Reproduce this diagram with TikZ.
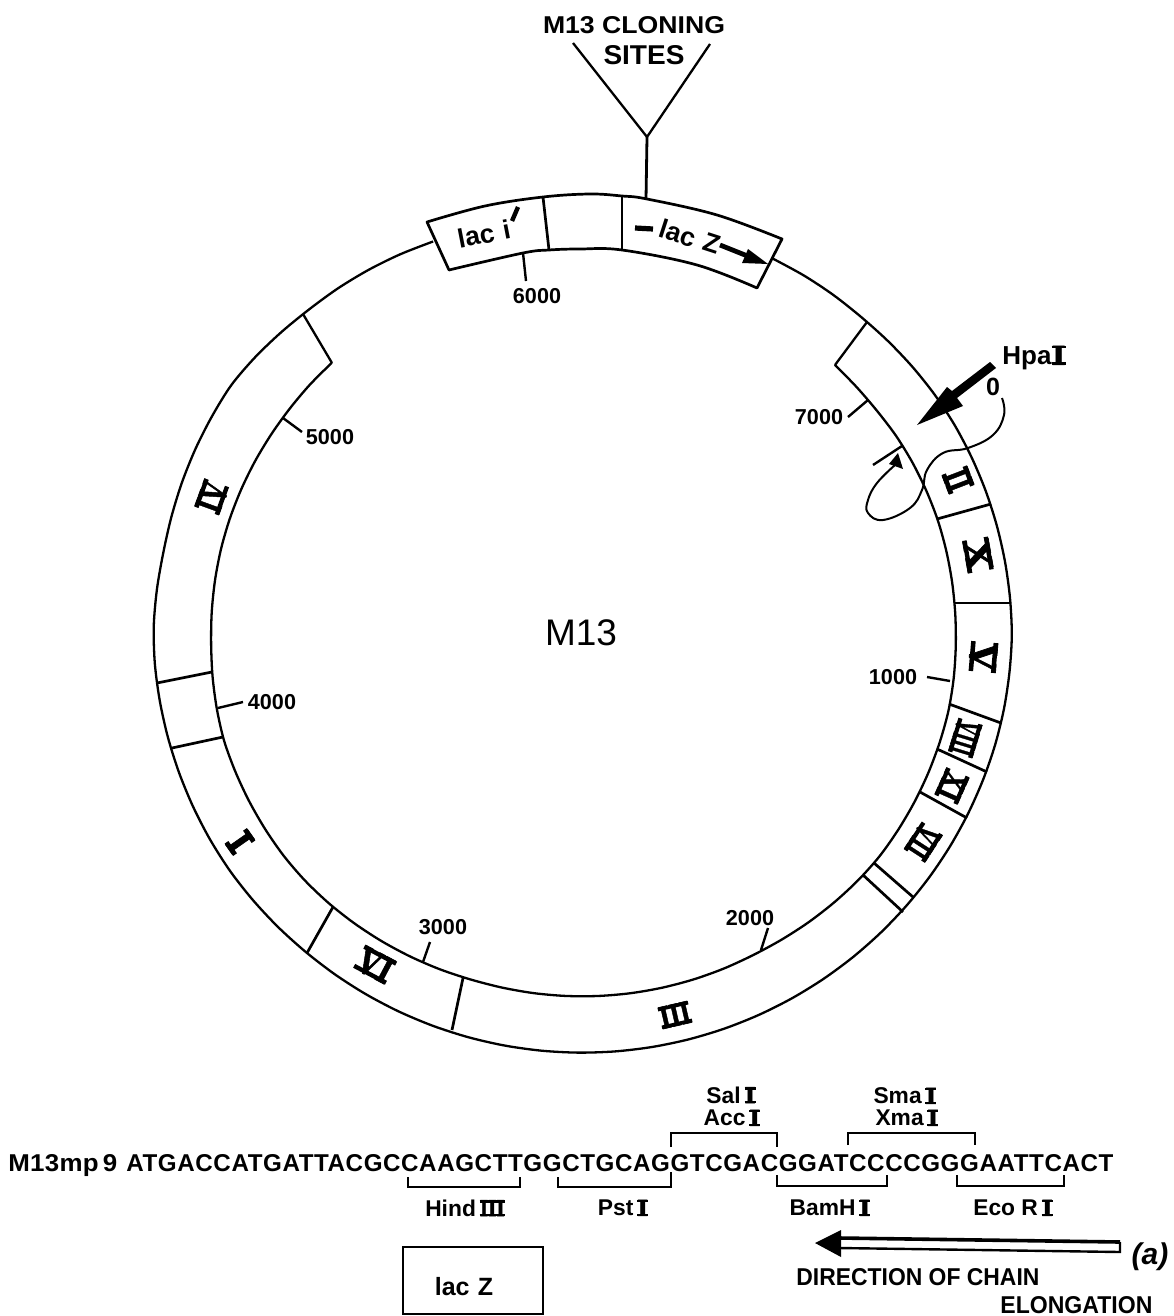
\documentclass[tikz,border=0pt]{standalone}
\usepackage{fontspec}
\usepackage{graphicx}
\setmainfont{Liberation Sans}
\newfontfamily\srf{Liberation Serif}[BoldFeatures={FakeBold=1.6}]
\newsavebox\rnb
\newcommand\rn[3]{\sbox\rnb{\srf\bfseries #3}\resizebox{\dimexpr #1pt/2\relax}{\dimexpr #2pt/2\relax}{\rlap{\raisebox{\dimexpr\ht\rnb-1.1pt}{\rule{\wd\rnb}{1.1pt}}}\rlap{\rule{\wd\rnb}{1.1pt}}\usebox\rnb}}
\newcommand\fitwh[3]{\resizebox{\dimexpr #1pt/2\relax}{\dimexpr #2pt/2\relax}{#3}}
\newcommand\sI{\,\rn{11}{16}{I}}
\tikzset{
 ring/.style={line width=1.15pt,line join=round},
 div/.style={line width=1.35pt},
 tick/.style={line width=1.2pt},
 num/.style={inner sep=0pt,font=\fontsize{10.8}{12}\selectfont\bfseries},
 lab/.style={inner sep=0pt,font=\fontsize{11.4}{13}\selectfont\bfseries,align=center},
 lacf/.style={inner sep=0pt,font=\fontsize{13.3}{15}\selectfont\bfseries},
 txt/.style={inner sep=0pt,font=\bfseries},
 gene/.style={inner sep=0pt,anchor=center},
 brk/.style={line width=1pt},
 declare function={
  lin(\t,\a,\b,\c,\d)=\b+(\t-\a)*(\d-\b)/(\c-\a);
  ro(\t)=(\t<-46.6)?lin(\t,-62.4,410,-46.6,413):((\t<-29.9)?lin(\t,-46.6,413,-29.9,420):((\t<-16.3)?lin(\t,-29.9,420,-16.3,424):((\t<1.5)?lin(\t,-16.3,424,1.5,429):((\t<13.6)?lin(\t,1.5,429,13.6,430):((\t<130)?lin(\t,13.6,430,130,431):((\t<146)?lin(\t,130,431,146,432):((\t<177.6)?lin(\t,146,432,177.6,430):((\t<190.4)?lin(\t,177.6,430,190.4,425):((\t<214.8)?lin(\t,190.4,425,214.8,424):((\t<227.7)?lin(\t,214.8,424,227.7,416):lin(\t,227.7,416,248.5,409)))))))))));
  ri(\t)=(\t<-37.9)?lin(\t,-45.6,360,-37.9,361):((\t<-29)?lin(\t,-37.9,361,-29,365):((\t<-16.4)?lin(\t,-29,365,-16.4,369):((\t<1.7)?lin(\t,-16.4,369,1.7,373):((\t<12.4)?lin(\t,1.7,373,12.4,376):((\t<39.6)?lin(\t,12.4,376,39.6,378):((\t<61.4)?lin(\t,39.6,378,61.4,374):((\t<106)?lin(\t,61.4,374,106,374.5):((\t<131.3)?lin(\t,106,374.5,131.3,379):((\t<139.8)?lin(\t,131.3,379,139.8,380):((\t<162.3)?lin(\t,139.8,380,162.3,378):((\t<177)?lin(\t,162.3,378,177,372.4):((\t<192.8)?lin(\t,177,372.4,192.8,369):((\t<214.2)?lin(\t,192.8,369,214.2,363):lin(\t,214.2,363,225.9,361))))))))))))));
 },
}
\begin{document}
\begin{tikzpicture}[x=0.5pt,y=-0.5pt]
\useasboundingbox (0,0) rectangle (1173,1316);
% cloning site Y
\coordinate (yl) at (573,43); \coordinate (yr) at (710,44);
\coordinate (yj) at (647,137); \coordinate (ys) at (646,199);
\draw[ring] (yl) -- (yj) -- (yr);
\draw[ring,line width=1.4pt] (yj) -- (ys);
\node[txt] (title1) at (634,25) {\fitwh{182}{17}{M13 CLONING}};
\node[txt] (title2) at (644,55) {\fitwh{81}{19}{SITES}};
% outer line
\draw[ring] plot[smooth,domain=-62.4:248.5,samples=64,variable=\u] ({583+ro(\u)*cos(\u)},{622+ro(\u)*sin(\u)});
% inner line
\draw[ring] plot[smooth,domain=-45.6:225.9,samples=56,variable=\u] ({583+ri(\u)*cos(\u)},{622+ri(\u)*sin(\u)});
\draw[ring] (303,314) -- (332,363);
\draw[ring] (867,322) -- (835,365);
% top box
\draw[ring,line width=1.35pt,fill=white] plot[smooth,tension=.6] coordinates {(427,222) (485,206) (543,197) (590,194) (622,196) (647,199) (717,215) (782,239)} -- (757,288) -- plot[smooth,tension=.6] coordinates {(757,288) (697,265) (622,250) (580,249) (549,250) (523,253) (449,270)} -- cycle;
\draw[div] (543,197) -- (549,250);
\draw[div] (622,196) -- (622,250);
% dividers
\draw[div] (937,519) -- (991,504);
\draw[div] (955,603) -- (1010,603);
\draw[div] (949,704) -- (1001,723);
\draw[div] (937,749) -- (987,772);
\draw[div] (920,792) -- (967,818);
\draw[div] (874,863) -- (913,897);
\draw[div] (863,875) -- (903,912);
\draw[div] (157,683) -- (212,672);
\draw[div] (172,748) -- (223,737);
\draw[div] (307,953) -- (333,907);
\draw[div] (452,1030) -- (463,978);
% ticks
\draw[tick] (523,253) -- (526,281);
\draw[tick] (868,400) -- (848,417);
\draw[tick] (950,681) -- (927,677);
\draw[tick] (768,928) -- (761,950);
\draw[tick] (430,942) -- (423,962);
\draw[tick] (243,702) -- (218,708);
\draw[tick] (283,418) -- (302,432);
\node[num] (n6000) at (537,296) {6000};
\node[num] (n7000) at (819,417) {7000};
\node[num] (n1000) at (893,677) {1000};
\node[num] (n2000) at (750,918) {2000};
\node[num] (n3000) at (443,927) {3000};
\node[num] (n4000) at (272,702) {4000};
\node[num] (n5000) at (330,437) {5000};
\node[inner sep=0pt,font=\fontsize{18.5}{20}\selectfont] (m13) at (581,633) {M13};
% top box labels
\node[lacf,rotate=11] (laci) at (484,234) {lac\,\,i};
\draw[line width=2.2pt] (518,207) -- (512,221);
\draw[line width=2.6pt] (635,228) -- (653,229);
\node[lacf,rotate=-18] (lacz) at (678,233) {lac};
\node[lacf,rotate=-18] (zz) at (712,243) {Z};
\draw[line width=2.4pt] (720,245) -- (750,257);
\fill (768,264) -- (742,263) -- (748,249) -- cycle;
% gene labels
\node[gene,rotate=-69] (gII) at (958,480) {\rn{21}{27}{II}};
\node[gene,rotate=-80] (gX) at (978,555) {\rn{33}{26}{X}};
\node[gene,rotate=-95] (gV) at (983,657) {\rn{30}{27}{V}};
\node[gene,rotate=-107] (gVIII) at (965,738) {\rn{35}{25}{VIII}};
\node[gene,rotate=-114] (gIX) at (952,786) {\rn{30}{25}{XI}};
\node[gene,rotate=-123] (gVII) at (923,842) {\rn{33}{25}{VII}};
\node[gene,rotate=13] (gIII) at (675,1015) {\rn{31}{22}{III}};
\node[gene,rotate=-28] (gVI) at (375,965) {\rn{36}{26}{VI}};
\node[gene,rotate=-55] (gI) at (240,842) {\rn{15}{27}{I}};
\node[gene,rotate=70] (gIV) at (212,497) {\rn{30}{26}{IV}};
% HpaI
\fill (990,362) -- (996,368) -- (957,398) -- (963,406) -- (917,425) -- (947,387) -- (952,391) -- cycle;
\node[inner sep=0pt,font=\fontsize{13}{15}\selectfont\bfseries] (hpa) at (1034,358) {Hpa\rn{14}{19}{I}};
\node[inner sep=0pt,font=\fontsize{12.5}{14}\selectfont\bfseries] (zero) at (993,387) {0};
\draw[line width=1pt] plot[smooth,tension=.7] coordinates {(1002,398) (1004,415) (993,435) (968,448) (943,453) (927,470) (922,490) (910,508) (883,520) (868,513) (868,500) (877,483) (895,465)};
\fill (898,453) -- (889,464) -- (903,469) -- cycle;
\draw[tick] (873,465) -- (902,446);
% sequence
\node[txt,anchor=base west] (mp9) at (8,1171) {\fitwh{109}{17}{\addfontfeature{LetterSpace=1}M13mp\,9}};
\node[txt,anchor=base west] (seq) at (126,1171) {\fitwh{987}{17}{\addfontfeature{LetterSpace=2.5}ATGACCATGATTACGCCAAGCTTGGCTGCAGGTCGACGGATCCCCGGGAATTCACT}};
% brackets
\draw[brk] (408,1177) -- (408,1187) -- (520,1187) -- (520,1177);
\draw[brk] (558,1177) -- (558,1187) -- (671,1187) -- (671,1172);
\draw[brk] (671,1147) -- (671,1133) -- (777,1133) -- (777,1147);
\draw[brk] (848,1145) -- (848,1133) -- (975,1133) -- (975,1145);
\draw[brk] (777,1175) -- (777,1186) -- (887,1186) -- (887,1175);
\draw[brk] (957,1175) -- (957,1186) -- (1064,1186) -- (1064,1175);
\node[lab] (hind) at (465,1208) {Hind\,\rn{25}{16}{III}};
\node[lab] (pst) at (623,1208) {Pst\sI};
\node[lab] (bam) at (830,1208) {BamH\sI};
\node[lab] (eco) at (1013,1208) {Eco R\sI};
\node[lab] (sal) at (731,1095) {Sal\sI};
\node[lab] (acc) at (732,1118) {Acc\sI};
\node[lab] (sma) at (905,1096) {Sma\sI};
\node[lab] (xma) at (907,1118) {Xma\sI};
% lacZ box
\draw[line width=1.35pt] (403,1247) rectangle (543,1314);
\node[lab,font=\fontsize{12.5}{14}\selectfont\bfseries] (boxz) at (464,1287) {lac\,\,Z};
% elongation arrow
\fill (815,1243) -- (841,1230) -- (841,1257) -- cycle;
\draw[line width=1.2pt] (839,1248) -- (1120,1252) -- (1120,1242);
\draw[line width=1.8pt] (839,1238) -- (1120,1242);
\node[inner sep=0pt,font=\fontsize{15}{16}\selectfont\bfseries\itshape] (a) at (1150,1257) {(a)};
\node[txt,anchor=base west] (dir) at (796,1285) {\fitwh{243}{17}{DIRECTION OF CHAIN}};
\node[txt,anchor=base west] (elo) at (1000,1313) {\fitwh{152}{17}{ELONGATION}};
\end{tikzpicture}
\end{document}
